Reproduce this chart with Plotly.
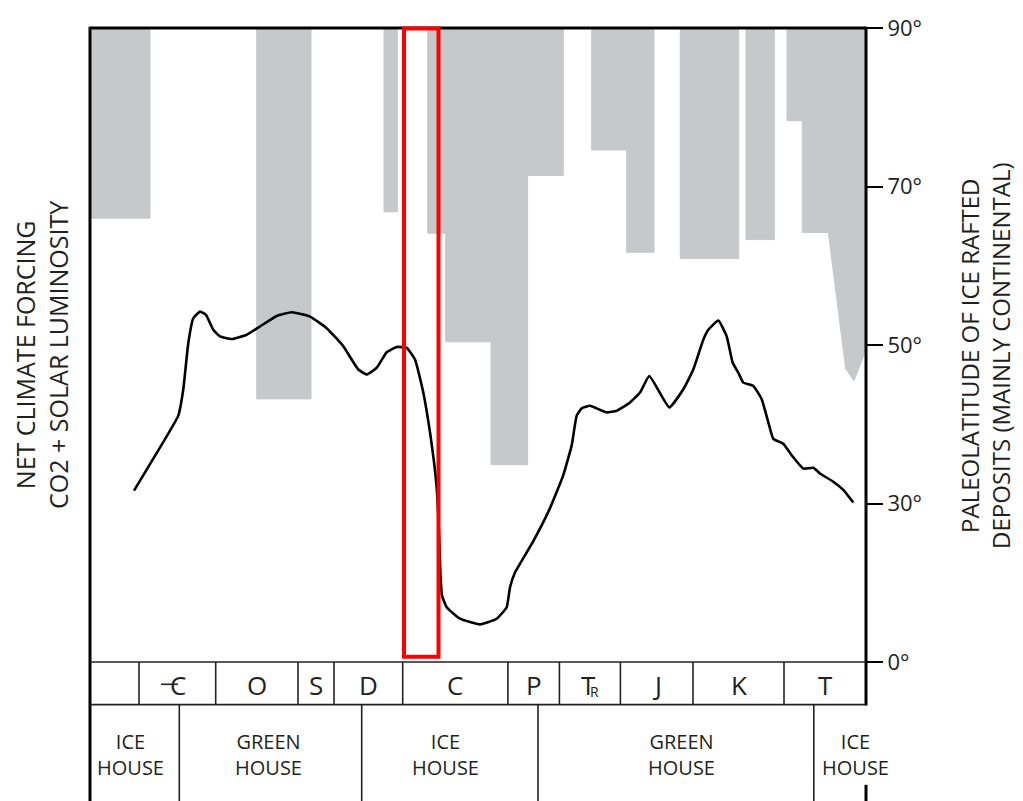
import numpy as np
import plotly.graph_objects as go

# ---------------- data ----------------
# right axis: paleolatitude tick labels (evenly spaced on the chart)
lat_ticks = [0, 30, 50, 70, 90]
lat_tick_text = ["0°", "30°", "50°", "70°", "90°"]

# ice-rafted deposit bands (time position units, left->right) and lowest paleolatitude reached
gray_left = [0, 166.7, 294, 337.7, 355.7, 401, 437.7, 501.7, 536.7, 590.3, 656, 697, 712.3]
gray_right = [60, 221, 307.3, 355.7, 401, 437.7, 473.3, 536.7, 564, 648.7, 684.3, 712.3, 738.3]
gray_bottom_lat = [66.0, 43.2, 66.8, 64.1, 50.4, 34.9, 71.4, 74.6, 61.7, 60.9, 63.3, 78.3, 64.2]

# Cenozoic tail (sloping edge)
tail_x = [738.3, 755.7, 764, 776]
tail_lat = [64.2, 47.0, 45.5, 49.4]

# net climate forcing curve (arbitrary units)
curve_x = [44, 63.3, 88.3, 93.3, 98.3, 103.3, 110, 116, 123.3, 130, 141.7, 156.7, 170, 186.7,
           201.7, 220, 236.7, 253.3, 268.3, 276.7, 286.7, 296.7, 306.7, 316.7, 325, 333.3, 340,
           344, 347, 349, 350.5, 352, 356.7, 370, 390, 406.7, 416.7, 420, 425, 443.3, 460,
           473.3, 481.7, 486.7, 491.7, 500, 506.7, 516.7, 526.7, 540, 550, 559.3, 579.3, 593.3,
           603.3, 613.3, 618.3, 628.3, 636.7, 642.7, 648.3, 653.3, 663.3, 671.7, 678.3, 683.3,
           693.3, 701.7, 713.3, 723.3, 730, 743.3, 753.3, 763.3]
curve_y = [173, 205.3, 248.7, 275.3, 322, 347, 353.7, 350.3, 335.3, 328.7, 326, 330.3, 338.7, 349.3,
           353, 348.7, 337, 318.7, 295.3, 290.3, 297, 312.7, 318, 317, 305.3, 272, 232,
           202, 172, 132, 87, 67, 55.3, 43.7, 38, 43.7, 55.3, 75.3, 90.3, 122, 155.3,
           188.7, 218.7, 248.7, 256, 258.7, 256, 252, 253.7, 262, 272, 288.7, 257, 275.3,
           295.3, 325.3, 335.3, 344.7, 328.7, 302, 292, 282, 278.7, 265.3, 242, 225.3,
           220.3, 208.7, 195.3, 196, 190.3, 182, 173.7, 161]

# geological periods
period_bounds = [0, 49, 125.7, 208, 244, 312.7, 417.9, 469.4, 530.4, 603, 694, 776]
period_labels = ["", "C", "O", "S", "D", "C", "P", "T", "J", "K", "T"]

# climate modes
mode_bounds = [0, 89.3, 271.7, 448, 723.8, 776]
mode_labels = ["ICE<br>HOUSE", "GREEN<br>HOUSE", "ICE<br>HOUSE", "GREEN<br>HOUSE", "ICE<br>HOUSE"]

# highlighted interval
highlight = [314, 348.5]

# ---------------- helpers ----------------
def lat_pos(lat):
    return np.interp(lat, lat_ticks, np.arange(len(lat_ticks)))

W, H = 1023, 801
L, R, T, B = 90, 866, 22, 662  # plot area pixel edges


def yp(py):
    return (B - py) / (B - T)


def xp(px):
    return (px - L) / (R - L)


GRAY = "#c7c8ca"
INK = "#231f20"
FONT = "Open Sans"

fig = go.Figure()

gl = np.array(gray_left)
gr = np.array(gray_right)
gb = lat_pos(np.array(gray_bottom_lat))
top = lat_pos(90)
fig.add_trace(go.Bar(
    x=(gl + gr) / 2, width=gr - gl, base=gb, y=top - gb,
    marker=dict(color=GRAY, line=dict(width=1, color=GRAY)), hoverinfo="skip"))

tx = list(tail_x) + [tail_x[-1], tail_x[0]]
ty = list(lat_pos(np.array(tail_lat))) + [top, top]
fig.add_trace(go.Scatter(x=tx, y=ty, fill="toself", fillcolor=GRAY, mode="lines",
                         line=dict(width=1, color=GRAY), hoverinfo="skip"))

fig.add_trace(go.Scatter(x=curve_x, y=curve_y, yaxis="y2", mode="lines",
                         line=dict(color="black", width=2.6, shape="spline", smoothing=0.4),
                         hoverinfo="skip"))

shapes = []
thick = dict(color="black", width=3)
thin = dict(color="#222", width=1.6)
bottom = -0.235
shapes.append(dict(type="line", xref="paper", yref="paper", x0=0, x1=1, y0=1, y1=1, line=thick))
shapes.append(dict(type="line", xref="paper", yref="paper", x0=0, x1=0, y0=bottom, y1=1.002, line=thick))
shapes.append(dict(type="line", xref="paper", yref="paper", x0=1, x1=1, y0=yp(706), y1=1.002, line=thick))
shapes.append(dict(type="line", xref="paper", yref="paper", x0=1, x1=1, y0=bottom, y1=yp(786), line=thick))
shapes.append(dict(type="line", xref="paper", yref="paper", x0=0, x1=1, y0=0, y1=0, line=thin))
shapes.append(dict(type="line", xref="paper", yref="paper", x0=0, x1=1, y0=yp(705), y1=yp(705), line=thin))
for b in period_bounds[1:-1]:
    shapes.append(dict(type="line", xref="x", yref="paper", x0=b, x1=b, y0=yp(705), y1=0, line=thin))
for b in mode_bounds[1:-1]:
    shapes.append(dict(type="line", xref="x", yref="paper", x0=b, x1=b, y0=bottom, y1=yp(705), line=thin))
# Cambrian symbol bar
shapes.append(dict(type="line", xref="paper", yref="paper", x0=xp(161), x1=xp(178),
                   y0=yp(684.5), y1=yp(684.5), line=dict(color=INK, width=1.6)))
# highlight rectangle
shapes.append(dict(type="rect", xref="x", yref="paper", x0=highlight[0], x1=highlight[1],
                   y0=yp(656.7), y1=yp(22.5), line=dict(color="#ff0000", width=4)))

annotations = []


def ann(x, y, text, size, xref="x", **kw):
    annotations.append(dict(x=x, y=y, xref=xref, yref="paper", text=text, showarrow=False,
                            xanchor="center", yanchor="middle",
                            font=dict(family=FONT, size=size, color=INK), **kw))


for i, lab in enumerate(period_labels):
    if not lab:
        continue
    cx = (period_bounds[i] + period_bounds[i + 1]) / 2
    if i == 1:
        cx += 0.5
    if lab == "T" and i == 7:
        ann(cx + 5, yp(692), "R", 14)
        cx -= 1
    ann(cx, yp(685), lab, 26)

mode_nudge = [-4, -2, -4, 6, 16]
for i, lab in enumerate(mode_labels):
    cx = (mode_bounds[i] + mode_bounds[i + 1]) / 2 + mode_nudge[i]
    ann(cx, yp(755), lab, 20, bgcolor="white")

ann(xp(42), yp(352), "NET CLIMATE FORCING<br>CO2 + SOLAR LUMINOSITY", 25, xref="paper",
    textangle=-90)
ann(xp(985), yp(353), "PALEOLATITUDE OF ICE RAFTED<br>DEPOSITS (MAINLY CONTINENTAL)", 24,
    xref="paper", textangle=-90)

fig.update_layout(
    width=W, height=H,
    margin=dict(l=L, r=W - R, t=T, b=H - B, pad=0),
    plot_bgcolor="white", paper_bgcolor="white",
    showlegend=False, barmode="overlay",
    xaxis=dict(range=[0, 776], visible=False, fixedrange=True),
    yaxis=dict(range=[0, 4], side="right", tickvals=list(range(5)), ticktext=lat_tick_text,
               ticks="outside", ticklen=16, tickwidth=2, tickcolor="black",
               showgrid=False, zeroline=False, showline=False,
               tickfont=dict(family=FONT, size=22, color=INK)),
    yaxis2=dict(range=[0, 640], overlaying="y", visible=False),
    shapes=shapes, annotations=annotations,
)

fig.write_html("out.html")
